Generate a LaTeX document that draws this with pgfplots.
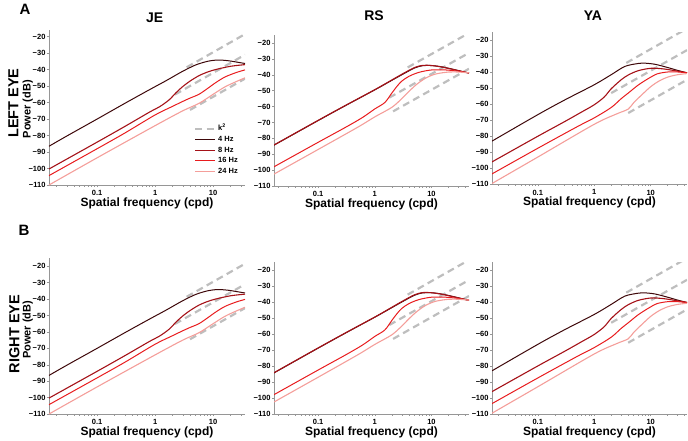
\documentclass[border=0pt]{standalone}
\usepackage{fontspec}
\setmainfont{Liberation Sans}
\usepackage{pgfplots}
\pgfplotsset{compat=1.18}
\usepackage{pgfplotstable}

\definecolor{cA}{RGB}{62,8,10}
\definecolor{cB}{RGB}{165,18,24}
\definecolor{cC}{RGB}{232,28,30}
\definecolor{cD}{RGB}{244,158,154}
\definecolor{kgray}{RGB}{190,190,190}
\definecolor{axgray}{RGB}{150,150,150}

% ---------------- JE ----------------
\pgfplotstableread{
x y
0.0148 -86.5
0.03 -80.3
0.1 -70
0.3 -60.5
0.8 -52.2
1.5 -47
2 -44.5
3 -41
5 -37.2
8 -35
12 -34.2
18 -34.6
25 -35.4
35.5 -36.3
}\JEa
\pgfplotstableread{
x y
0.0148 -100.3
0.1 -84
0.3 -74.5
0.8 -65.8
1.2 -62.5
1.74 -58.4
2.3 -54
2.95 -50.5
4 -47
5.7 -43.7
8 -41.5
11 -40
20 -38
35.5 -37
}\JEb
\pgfplotstableread{
x y
0.0148 -104.3
0.1 -88
0.3 -78.5
1 -67.5
2 -62.3
3 -59.3
4 -57.3
5.7 -55
8 -51.5
11 -48
16 -44.5
25 -41.8
35.5 -40.2
}\JEc
\pgfplotstableread{
x y
0.0148 -110
0.1 -93.5
1 -74
3 -65
5.7 -60.5
10 -55
16 -50.5
25 -47.3
35.5 -45
}\JEd

% ---------------- RS ----------------
\pgfplotstableread{
x y
0.0166 -84.3
0.1 -68.8
0.3 -59.5
1 -49.5
2 -43.5
3 -40
5 -35.8
7 -34.3
10 -34.2
15 -35
25 -36.7
46 -39
}\RSa
\pgfplotstableread{
x y
0.0166 -84.2
0.1 -68.7
0.3 -59.4
1 -49.4
2 -43.3
3 -39.7
5 -35.5
7 -34.1
10 -34.2
15 -35.1
25 -36.8
46 -39
}\RSb
\pgfplotstableread{
x y
0.0166 -97.9
0.1 -82.5
0.3 -73.2
0.6 -67
1 -61.5
1.5 -57.5
2 -51.5
2.5 -47
3 -44
4 -41
6 -38.5
10 -37
18 -37
30 -37.8
46 -38.8
}\RSc
\pgfplotstableread{
x y
0.0166 -102.5
0.1 -87
0.5 -73
1 -66.5
2 -60.5
3 -55
4 -50.5
5.5 -46
8 -42
12 -39.5
20 -38.3
30 -38.3
46 -38.8
}\RSd

% ---------------- YA ----------------
\pgfplotstableread{
x y
0.0155 -83
0.1 -66.5
0.3 -57.3
1 -47.8
2 -41.5
3.5 -36.3
6 -34.5
8 -34.3
12 -35
20 -37
30 -38.8
44 -40.3
}\YAa
\pgfplotstableread{
x y
0.0155 -96
0.1 -80
0.3 -70.8
0.6 -64.8
1 -60.3
1.5 -55.5
2 -50.3
3 -44.7
4 -41.7
6 -39
10 -37.5
16 -37.8
25 -38.8
44 -40.3
}\YAb
\pgfplotstableread{
x y
0.0155 -103.5
0.1 -87.5
0.5 -74
1 -68.5
2 -62
3 -56.5
4 -53
6 -48
9 -44
13 -41
20 -39.8
30 -39.8
44 -40.3
}\YAc
\pgfplotstableread{
x y
0.0155 -109.5
0.1 -93
1 -72.5
2.5 -66
4 -63
5 -59
7 -54
10 -49
14 -45.5
20 -43
30 -41.5
44 -40.8
}\YAd

\pgfplotsset{
  mypanel/.style={
    scale only axis,
    axis x line*=bottom, axis y line*=left,
    ymin=-110,
    xtick={0.1,1,10}, xticklabels={0.1,1,10},
    minor xtick={0.02,0.03,0.04,0.05,0.06,0.07,0.08,0.09,0.2,0.3,0.4,0.5,0.6,0.7,0.8,0.9,2,3,4,5,6,7,8,9,20,30,40},
    ytick={-110,-100,-90,-80,-70,-60,-50,-40,-30,-20},
    yticklabels={−110,−100,−90,−80,−70,−60,−50,−40,−30,−20},
    tick label style={font=\bfseries\fontsize{7.5}{8}\selectfont},
    yticklabel style={xshift=2pt},
    xlabel={Spatial frequency (cpd)},
    xlabel style={font=\bfseries\fontsize{12}{14}\selectfont, at={(axis description cs:0.5,0)}, anchor=center, yshift=-18pt},
    axis line style={axgray, line width=0.5pt},
    tick align=outside,
    major tick length=2pt, minor tick length=1.5pt,
    tick style={axgray, line width=0.4pt},
  },
  kd/.style={kgray, line width=2.2pt, dash pattern=on 7pt off 4.5pt},
  c4/.style={cA, line width=1pt, smooth},
  c8/.style={cB, line width=1.1pt, smooth},
  c16/.style={cC, line width=1pt, smooth},
  c24/.style={cD, line width=1.1pt, smooth},
}

\newcommand{\JEplots}{%
  \addplot[kd] coordinates {(3.5,-38.62) (35.5,-18.5)};
  \addplot[kd, forget plot] coordinates {(2.2,-55.15) (35.5,-31.0)};
  \addplot[kd, forget plot] coordinates {(4,-64.46) (35.5,-45.5)};
  \addplot[c4] table {\JEa};
  \addplot[c8] table {\JEb};
  \addplot[c16] table {\JEc};
  \addplot[c24] table {\JEd};
}
\newcommand{\RSplots}{%
  \addplot[kd] coordinates {(3.8,-35.4) (46,-13.74)};
  \addplot[kd] coordinates {(1.8,-54.39) (46,-26.24)};
  \addplot[kd] coordinates {(2.1,-63.06) (46,-36.24)};
  \addplot[c4] table {\RSa};
  \addplot[c8] table {\RSb};
  \addplot[c16] table {\RSc};
  \addplot[c24] table {\RSd};
}
\newcommand{\YAplots}{%
  \addplot[kd] coordinates {(3.7,-34.14) (44,-12.63)};
  \addplot[kd] coordinates {(2,-52.98) (44,-26.13)};
  \addplot[kd] coordinates {(4,-65.46) (44,-44.63)};
  \addplot[c4] table {\YAa};
  \addplot[c8] table {\YAb};
  \addplot[c16] table {\YAc};
  \addplot[c24] table {\YAd};
}

\begin{document}
\begin{tikzpicture}[x=1pt,y=1pt]
\path[use as bounding box] (0,0) rectangle (688,440);

% ===== top row =====
\begin{semilogxaxis}[mypanel, at={(49pt,255pt)}, anchor=south west,
  width=196pt, height=155pt, xmin=0.0148, xmax=35.5, ymax=-16,
  ylabel={Power (dB)},
  ylabel style={font=\bfseries\fontsize{11}{13}\selectfont, at={(axis description cs:-0.108,0.49)}, anchor=center},
  legend style={draw=none, fill=none, at={(axis description cs:1,0)}, anchor=south east,
    xshift=-5pt, yshift=8pt, inner sep=0pt, row sep=0pt,
    font=\bfseries\fontsize{7.5}{8}\selectfont,
    nodes={inner ysep=2pt, text height=5.5pt, text depth=1.2pt}},
  legend cell align=left,
  legend image code/.code={\draw[#1] (0pt,0pt) -- (20pt,0pt);},
]
\JEplots
\legend{k\textsuperscript{2},4 Hz,8 Hz,16 Hz,24 Hz}
\end{semilogxaxis}

\begin{semilogxaxis}[mypanel, at={(274pt,254pt)}, anchor=south west,
  width=195pt, height=151pt, xmin=0.0166, xmax=46, ymax=-15]
\RSplots
\end{semilogxaxis}

\begin{semilogxaxis}[mypanel, at={(492pt,255.7pt)}, anchor=south west,
  width=195pt, height=152pt, xmin=0.0155, xmax=44, ymax=-15]
\YAplots
\end{semilogxaxis}

% ===== bottom row =====
\begin{semilogxaxis}[mypanel, at={(49pt,26pt)}, anchor=south west,
  width=196pt, height=156pt, xmin=0.0148, xmax=35.5, ymax=-15,
  ylabel={Power (dB)},
  ylabel style={font=\bfseries\fontsize{11}{13}\selectfont, at={(axis description cs:-0.108,0.54)}, anchor=center},
]
\JEplots
\end{semilogxaxis}

\begin{semilogxaxis}[mypanel, at={(274pt,26pt)}, anchor=south west,
  width=195pt, height=152pt, xmin=0.0166, xmax=46, ymax=-15]
\RSplots
\end{semilogxaxis}

\begin{semilogxaxis}[mypanel, at={(492pt,26pt)}, anchor=south west,
  width=195pt, height=152pt, xmin=0.0155, xmax=44, ymax=-15]
\YAplots
\end{semilogxaxis}

% ===== titles and panel letters =====
\node[font=\bfseries\fontsize{14}{16}\selectfont] at (154.7,422) {JE};
\node[font=\bfseries\fontsize{14}{16}\selectfont] at (374,424.5) {RS};
\node[font=\bfseries\fontsize{14}{16}\selectfont] at (593,424) {YA};
\node[font=\bfseries\fontsize{15}{17}\selectfont] at (25,431) {A};
\node[font=\bfseries\fontsize{15}{17}\selectfont] at (24,210) {B};
\node[font=\bfseries\fontsize{14.5}{16}\selectfont, rotate=90] at (13.5,337) {LEFT EYE};
\node[font=\bfseries\fontsize{14.5}{16}\selectfont, rotate=90] at (14.5,106) {RIGHT EYE};
\end{tikzpicture}
\end{document}
